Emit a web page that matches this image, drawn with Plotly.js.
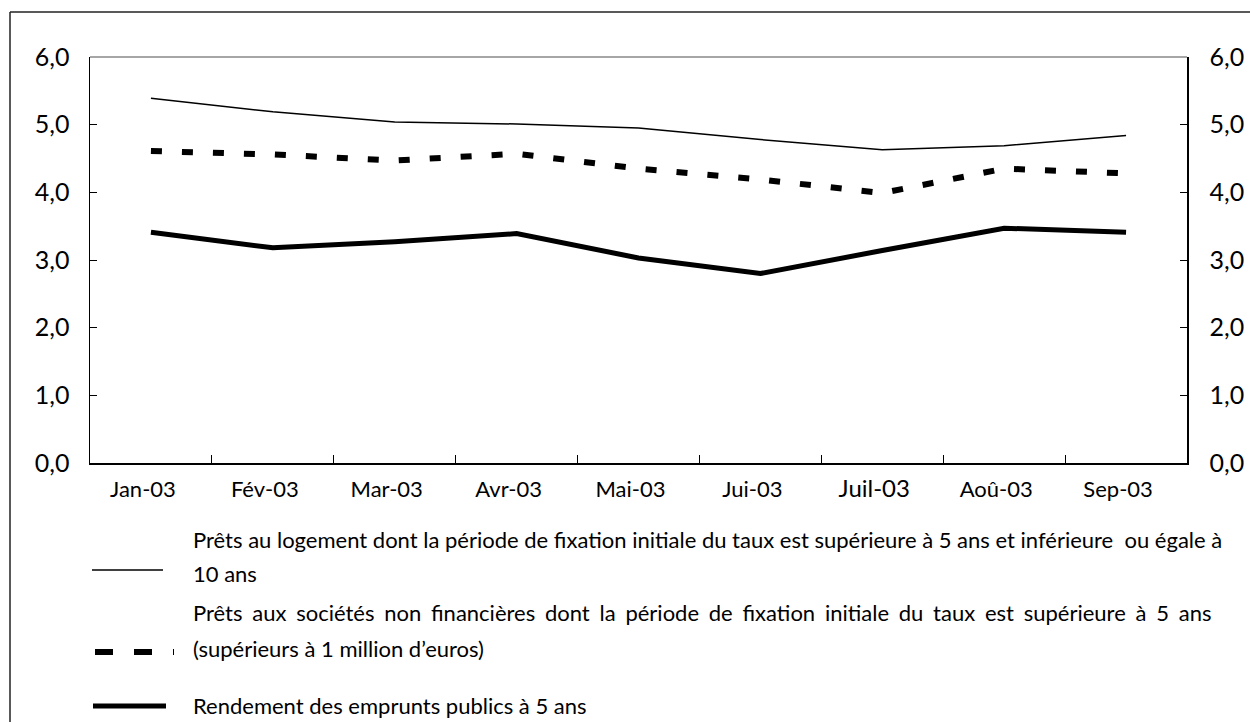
<!DOCTYPE html>
<html>
<head>
<meta charset="utf-8">
<script src="https://cdn.plot.ly/plotly-3.0.1.min.js"></script>
<style>html,body{margin:0;padding:0;background:#fff;}#chart{width:1250px;height:722px;}</style>
</head>
<body>
<div id="chart"></div>
<script>
const categories = ["Jan-03","Fév-03","Mar-03","Avr-03","Mai-03","Jui-03","Juil-03","Aoû-03","Sep-03"];
const housingLoans = [5.39, 5.19, 5.04, 5.01, 4.95, 4.78, 4.63, 4.69, 4.84];
const corporateLoans = [4.61, 4.56, 4.47, 4.57, 4.35, 4.19, 3.99, 4.35, 4.28];
const govBondYield = [3.41, 3.18, 3.27, 3.39, 3.03, 2.80, 3.14, 3.47, 3.41];
const seriesNames = [
  "Prêts au logement dont la période de fixation initiale du taux est supérieure à 5 ans et inférieure  ou égale à 10 ans",
  "Prêts aux sociétés non financières dont la période de fixation initiale du taux est supérieure à 5 ans (supérieurs à 1 million d’euros)",
  "Rendement des emprunts publics à 5 ans"
];
const legendLines = [
  ["Prêts au logement dont la période de fixation initiale du taux est supérieure à 5 ans et inférieure  ou égale à", "10 ans"],
  ["Prêts aux sociétés non financières dont la période de fixation initiale du taux est supérieure à 5 ans", "(supérieurs à 1 million d’euros)"],
  ["Rendement des emprunts publics à 5 ans"]
];
const yTicks = [0,1,2,3,4,5,6];

const W = 1250, H = 722;
const L = 90, R = 1187, T = 57, B = 463;
const pw = R - L, ph = B - T;
const px = v => (v - L) / pw;
const py = v => (B - v) / ph;
const FONT = "Lato, 'Open Sans', sans-serif";

const traces = [
  {x: categories, y: housingLoans, name: seriesNames[0], type: "scatter", mode: "lines",
   line: {color: "#000", width: 1.5}},
  {x: categories, y: corporateLoans, name: seriesNames[1], type: "scatter", mode: "lines",
   line: {color: "#000", width: 6, dash: "11px,20px"}},
  {x: categories, y: govBondYield, name: seriesNames[2], type: "scatter", mode: "lines",
   line: {color: "#000", width: 5}},
  {x: categories, y: govBondYield, yaxis: "y2", type: "scatter", mode: "lines",
   line: {width: 0}, opacity: 0, showlegend: false, hoverinfo: "skip"}
];

const shapes = [
  {type: "line", xref: "paper", yref: "paper", x0: px(10), x1: px(10), y0: py(12), y1: py(H + 5), line: {color: "#222", width: 1.5}},
  {type: "line", xref: "paper", yref: "paper", x0: px(10), x1: px(W + 5), y0: py(12), y1: py(12), line: {color: "#222", width: 1.5}},
  {type: "line", xref: "paper", yref: "paper", x0: 0, x1: 1, y0: 1, y1: 1, line: {color: "#888", width: 1.5}},
  {type: "line", xref: "paper", yref: "paper", x0: px(92), x1: px(163), y0: py(570), y1: py(570), line: {color: "#000", width: 1.5}},
  {type: "line", xref: "paper", yref: "paper", x0: px(95), x1: px(174), y0: py(652), y1: py(652), line: {color: "#000", width: 6, dash: "18px,21px"}},
  {type: "line", xref: "paper", yref: "paper", x0: px(93), x1: px(166), y0: py(706), y1: py(706), line: {color: "#000", width: 5}}
];

const lineY = [[539, 573], [612, 648], [705]];
const annotations = [];
legendLines.forEach((lines, i) => {
  lines.forEach((t, j) => {
    const txt = (i === 1 && j === 0) ? t.split(" ").join(" \u2009\u200a") : t;
    annotations.push({text: txt, xref: "paper", yref: "paper", x: px(191), y: py(lineY[i][j]),
      xanchor: "left", yanchor: "middle", showarrow: false,
      font: {family: FONT, size: 22, color: "#000"}});
  });
});

const tickText = categories.map(c => c === "Juil-03" ? '<span style="font-size:24px">' + c + '</span>' : c);

const layout = {
  width: W, height: H,
  margin: {l: L, r: W - R, t: T, b: H - B, pad: 0},
  paper_bgcolor: "#fff", plot_bgcolor: "#fff",
  showlegend: false,
  separators: ",.",
  font: {family: FONT, color: "#000"},
  xaxis: {
    type: "category", tickson: "boundaries", ticks: "inside", ticklen: 8, tickwidth: 1, tickcolor: "#000",
    showline: true, linecolor: "#000", linewidth: 2, showgrid: false, zeroline: false,
    tickmode: "array", tickvals: categories, ticktext: tickText,
    tickfont: {family: FONT, size: 22, color: "#000"}, ticklabelshift: -8, ticklabelstandoff: 6,
    range: [-0.5, categories.length - 0.5]
  },
  yaxis: {
    range: [0, 6], tickvals: yTicks, tickformat: ".1f", ticks: "inside", ticklen: 7, tickcolor: "#000",
    showline: true, linecolor: "#000", linewidth: 1.5, showgrid: false, zeroline: false,
    tickfont: {family: FONT, size: 25, color: "#000"}, ticklabelstandoff: 14
  },
  yaxis2: {
    overlaying: "y", side: "right", range: [0, 6], tickvals: yTicks, tickformat: ".1f", ticks: "inside", ticklen: 7, tickcolor: "#000",
    showline: true, linecolor: "#000", linewidth: 1.5, showgrid: false, zeroline: false,
    tickfont: {family: FONT, size: 25, color: "#000"}, ticklabelstandoff: 16
  },
  shapes: shapes,
  annotations: annotations
};

Plotly.newPlot("chart", traces, layout, {displayModeBar: false, staticPlot: true});
</script>
</body>
</html>
